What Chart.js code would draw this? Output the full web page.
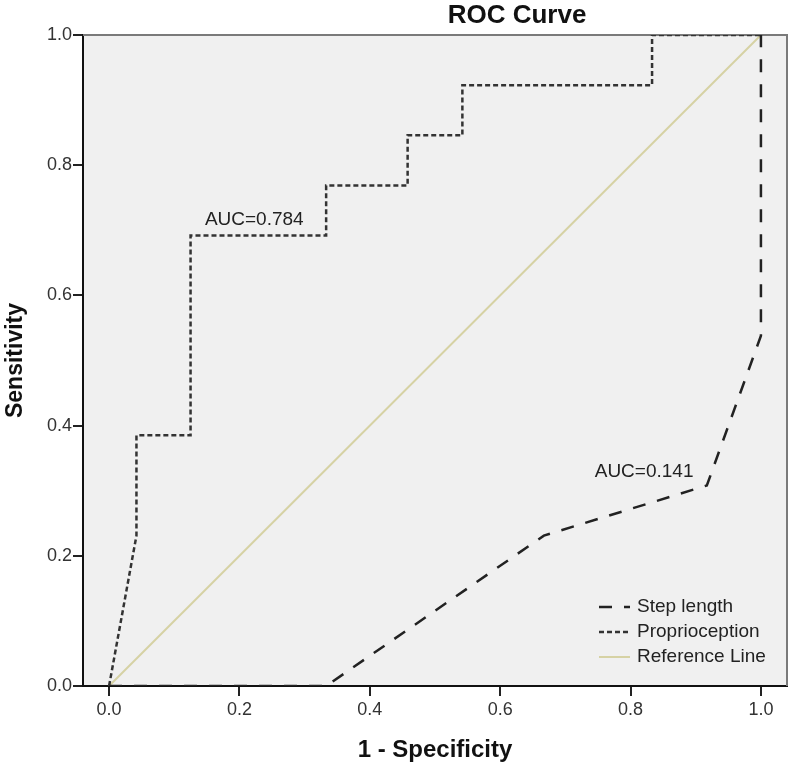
<!DOCTYPE html>
<html>
<head>
<meta charset="utf-8">
<script src="https://cdn.jsdelivr.net/npm/chart.js@4.4.1/dist/chart.umd.min.js"></script>
<style>
  html, body { margin: 0; padding: 0; background: #fff; }
  #wrap { width: 791px; height: 772px; }
</style>
</head>
<body>
<div id="wrap"><canvas id="roc" width="791" height="772"></canvas></div>
<script>
/* ── ROC curve data ─────────────────────────────── */
const stepX   = [0, 0.333, 0.667, 0.917, 1.0, 1.0];
const stepY   = [0, 0,     0.231, 0.308, 0.538, 1.0];

const propX   = [0, 0.042, 0.042, 0.125, 0.125, 0.333, 0.333, 0.458, 0.458, 0.542, 0.542, 0.833, 0.833, 1.0];
const propY   = [0, 0.231, 0.385, 0.385, 0.692, 0.692, 0.769, 0.769, 0.846, 0.846, 0.923, 0.923, 1.0,   1.0];

const refX    = [0, 1];
const refY    = [0, 1];

const seriesNames = ['Step length', 'Proprioception', 'Reference Line'];
const aucLabels   = ['AUC=0.141', 'AUC=0.784'];
const xTicks      = [0, 0.2, 0.4, 0.6, 0.8, 1.0];
const yTicks      = [0, 0.2, 0.4, 0.6, 0.8, 1.0];

const FONT = '"Liberation Sans", Arial, sans-serif';
const pts  = (xs, ys) => xs.map((x, i) => ({ x, y: ys[i] }));

// label anchors (data units) for the AUC notes
const aucAt = [{ x: 0.745, y: 0.329 }, { x: 0.147, y: 0.716 }];

const frame = {
  id: 'frame',
  beforeDraw(chart) {
    const { ctx, chartArea: a } = chart;
    ctx.save();
    ctx.fillStyle = '#f0f0f0';
    ctx.fillRect(a.left, a.top, a.right - a.left, a.bottom - a.top);
    ctx.restore();
  },
  beforeDatasetsDraw(chart) {
    // top / right frame, under the curves
    const { ctx, chartArea: a } = chart;
    ctx.save();
    ctx.strokeStyle = '#7a7a7a';
    ctx.lineWidth = 2;
    ctx.beginPath();
    ctx.moveTo(a.left, a.top); ctx.lineTo(a.right, a.top); ctx.lineTo(a.right, a.bottom);
    ctx.stroke();
    ctx.restore();
  },
  afterDraw(chart) {
    const { ctx, chartArea: a, scales } = chart;
    ctx.save();
    // title
    ctx.fillStyle = '#111';
    ctx.font = 'bold 26px ' + FONT;
    ctx.textAlign = 'center';
    ctx.textBaseline = 'middle';
    ctx.fillText('ROC Curve', 517, 16);

    // AUC notes
    ctx.font = '19px ' + FONT;
    ctx.fillStyle = '#222';
    ctx.textAlign = 'left';
    aucLabels.forEach((t, i) => {
      ctx.fillText(t, scales.x.getPixelForValue(aucAt[i].x), scales.y.getPixelForValue(aucAt[i].y));
    });

    // legend (inside plot, bottom right)
    const lx = a.right - 188, ly = a.bottom - 79;
    chart.data.datasets.forEach((ds, i) => {
      const y = ly + i * 25;
      ctx.strokeStyle = ds.borderColor;
      ctx.lineWidth = ds.borderWidth;
      ctx.setLineDash(ds.borderDash || []);
      ctx.beginPath(); ctx.moveTo(lx, y); ctx.lineTo(lx + 31, y); ctx.stroke();
      ctx.setLineDash([]);
      ctx.fillStyle = '#222';
      ctx.fillText(ds.label, lx + 38, y);
    });
    ctx.restore();
  }
};

new Chart(document.getElementById('roc'), {
  type: 'line',
  data: {
    datasets: [
      { label: seriesNames[0], data: pts(stepX, stepY), borderColor: '#222', borderWidth: 2.5, borderDash: [13, 12] },
      { label: seriesNames[1], data: pts(propX, propY), borderColor: '#333', borderWidth: 2.5, borderDash: [5, 3] },
      { label: seriesNames[2], data: pts(refX, refY),   borderColor: '#d6d2a4', borderWidth: 2 }
    ]
  },
  options: {
    responsive: false,
    animation: false,
    parsing: false,
    elements: { point: { radius: 0, hoverRadius: 0 }, line: { tension: 0, fill: false } },
    layout: { padding: { top: 35, right: 4, left: 0, bottom: 0 } },
    plugins: { legend: { display: false }, tooltip: { enabled: false }, title: { display: false } },
    scales: {
      x: {
        type: 'linear', min: -0.04, max: 1.04,
        afterBuildTicks: s => { s.ticks = xTicks.map(v => ({ value: v })); },
        afterFit: s => { s.height = 86; },
        ticks: { callback: v => v.toFixed(1), font: { size: 18, family: FONT }, color: '#333', padding: 3, maxRotation: 0 },
        grid: { drawOnChartArea: false, tickLength: 10, color: '#222', lineWidth: 2 },
        border: { color: '#111', width: 2 },
        title: { display: true, text: '1 - Specificity', font: { size: 24, weight: 'bold', family: FONT }, color: '#111', padding: { top: 0, bottom: 7 } }
      },
      y: {
        type: 'linear', min: 0, max: 1,
        afterBuildTicks: s => { s.ticks = yTicks.map(v => ({ value: v })); },
        afterFit: s => { s.width = 83; },
        ticks: { callback: v => v.toFixed(1), font: { size: 18, family: FONT }, color: '#333', padding: 1 },
        grid: { drawOnChartArea: false, tickLength: 10, color: '#222', lineWidth: 2 },
        border: { color: '#111', width: 2 },
        title: { display: true, text: 'Sensitivity', font: { size: 23, weight: 'bold', family: FONT }, color: '#111', padding: { top: 2, bottom: 0 } }
      }
    }
  },
  plugins: [frame]
});
</script>
</body>
</html>
